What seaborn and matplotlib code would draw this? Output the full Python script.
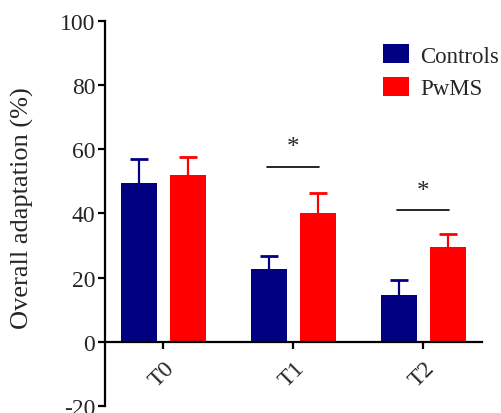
import numpy as np
import pandas as pd
import matplotlib
matplotlib.use("Agg")
import matplotlib.pyplot as plt
import matplotlib.patches as mpatches
import matplotlib.transforms as mtransforms
import seaborn as sns

# ---- data ----
timepoints = ["T0", "T1", "T2"]
groups = ["Controls", "PwMS"]
controls_mean = [49.4, 22.8, 14.7]
controls_sem = [7.5, 3.9, 4.6]
pwms_mean = [52.1, 40.0, 29.4]
pwms_sem = [5.4, 6.3, 4.3]
sig_timepoints = ["T1", "T2"]
sig_levels = [54.6, 41.1]
sig_labels = ["*", "*"]
yticks = [-20, 0, 20, 40, 60, 80, 100]
colors = {"Controls": "#000080", "PwMS": "#FF0000"}

df = pd.DataFrame({
    "time": timepoints * 2,
    "group": ["Controls"] * 3 + ["PwMS"] * 3,
    "mean": controls_mean + pwms_mean,
    "sem": controls_sem + pwms_sem,
})

sns.set_style("white")
plt.rcParams["font.family"] = ["Liberation Serif", "DejaVu Serif"]

fig = plt.figure(figsize=(5.02, 4.14), dpi=100)
ax = fig.add_axes([0.209, 0.017, 0.751, 0.930])

sns.barplot(data=df, x="time", y="mean", hue="group", order=timepoints,
            hue_order=groups, palette=colors, errorbar=None, width=0.754,
            gap=0.28, saturation=1, ax=ax, legend=False, linewidth=0)

# spine placement first (it resets tick objects)
for s in ["top", "right"]:
    ax.spines[s].set_visible(False)
ax.spines["bottom"].set_position(("data", 0))
for s in ["left", "bottom"]:
    ax.spines[s].set_linewidth(1.6)
    ax.spines[s].set_color("black")

# error bars (upper only) positioned from the drawn bars
for cont, g in zip(ax.containers, groups):
    sub = df[df.group == g].set_index("time").loc[timepoints]
    xs = np.array([p.get_x() + p.get_width() / 2 for p in cont.patches])
    tops = sub["mean"].values + sub["sem"].values
    ax.vlines(xs, sub["mean"].values, tops, color=colors[g], lw=1.6, zorder=3)
    ax.plot(xs, tops, ls="none", marker="_", markersize=12.5,
            mew=2.0, color=colors[g], zorder=3)

# significance markers
for t, lvl, lab in zip(sig_timepoints, sig_levels, sig_labels):
    i = timepoints.index(t)
    ax.plot([i - 0.2, i + 0.2], [lvl, lvl], color="black", lw=1.2)
    ax.text(i, lvl + 2.6, lab, ha="center", va="bottom", fontsize=18)

ax.set_xlim(-0.45, 2.45)
ax.set_ylim(-20, 100)
ax.set_yticks(yticks)
ax.set_yticklabels([str(v) for v in yticks], fontsize=17)
ax.set_xticks(range(len(timepoints)))
ax.set_xticklabels(timepoints, fontsize=17, rotation=45, ha="right",
                   rotation_mode="anchor")
offset = mtransforms.ScaledTranslation(-4 / 100, -2 / 100, fig.dpi_scale_trans)
for lbl in ax.get_xticklabels():
    lbl.set_transform(lbl.get_transform() + offset)
ax.set_xlabel("")
ax.set_ylabel("Overall adaptation (%)", fontsize=19)
ax.yaxis.set_label_coords(-0.188, 0.517)

ax.tick_params(axis="both", direction="out", length=5, width=1.6,
               color="black", left=True, bottom=True, pad=2)
ax.tick_params(axis="x", pad=6)

handles = [mpatches.Patch(facecolor=colors[g], edgecolor="none", label=g)
           for g in groups]
ax.legend(handles=handles, loc="upper left", bbox_to_anchor=(0.737, 0.94),
          frameon=False, fontsize=16.5, handlelength=1.13, handleheight=0.92,
          handletextpad=0.52, labelspacing=0.45, borderaxespad=0, borderpad=0)

fig.savefig("out.png", dpi=100)
